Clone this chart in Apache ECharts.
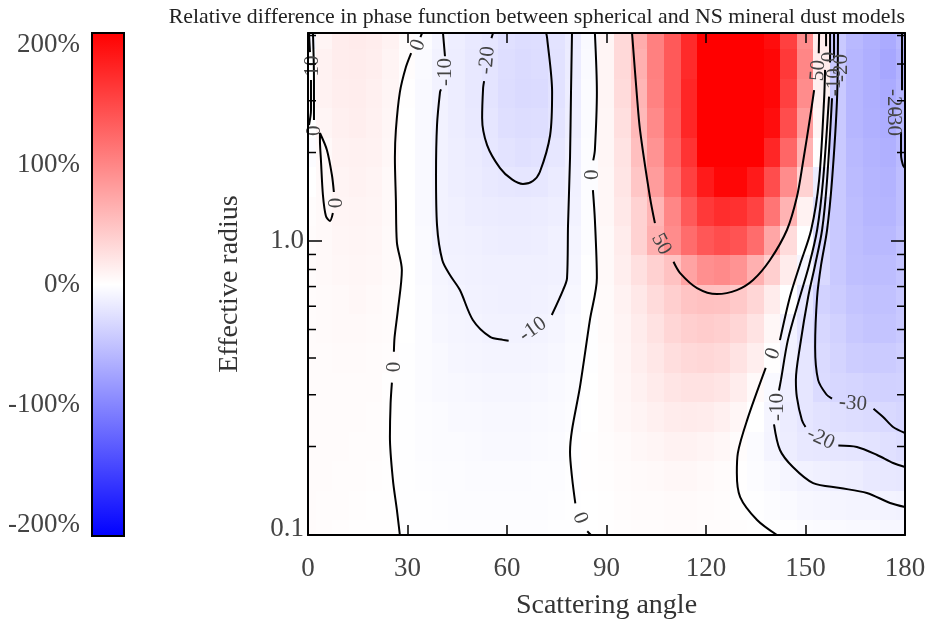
<!DOCTYPE html>
<html><head><meta charset="utf-8">
<script src="https://cdn.jsdelivr.net/npm/echarts@6/dist/echarts.min.js"></script>
<style>html,body{margin:0;padding:0;background:#fff}#c{width:929px;height:625px}</style>
</head><body><div id="c"></div>
<script>
// ---------- data ----------
const angles = [0,5,10,15,20,25,30,35,40,45,50,55,60,65,70,75,80,85,90,95,100,105,110,115,120,125,130,135,140,145,150,155,160,165,170,175,180];
const radii = [5.01,3.98,3.16,2.51,2.00,1.58,1.26,1.00,0.794,0.631,0.501,0.398,0.316,0.251,0.200,0.158,0.126,0.100];
// relative difference (%) per radius row (top = largest radius) and angle column
const diffRows = [
 [-8,8,14,16,14,10,3,-2,-9,-13,-17,-20,-24,-27,-26,-22,-16,-5,8,30,65,100,130,167,200,215,215,210,190,150,90,15,-42,-55,-61,-66,-56],
 [0,10,14,15,13,9,2,-4,-10,-14,-18,-21,-26,-28,-27,-23,-15,-4,8,30,62,100,130,167,205,220,220,215,195,155,95,15,-42,-57,-63,-69,-60],
 [3,10,13,14,12,8,1,-5,-10,-14,-18,-21,-27,-29,-28,-23,-14,-3,8,28,58,98,130,170,210,225,225,220,195,150,90,12,-42,-57,-63,-66,-57],
 [0,8,12,13,11,7,0,-5,-10,-14,-17,-20,-25,-27,-26,-21,-13,-3,7,25,55,92,128,170,210,225,225,220,190,140,78,8,-42,-57,-62,-64,-55],
 [-2,5,10,11,10,6,0,-5,-10,-13,-16,-19,-22,-24,-23,-19,-12,-2,7,22,50,85,122,160,200,215,215,205,170,120,60,0,-42,-55,-60,-62,-53],
 [0,5,9,10,9,5,0,-5,-10,-13,-15,-17,-19,-20,-19,-16,-11,-2,6,20,45,78,112,150,180,195,195,180,140,90,35,-15,-42,-53,-58,-60,-51],
 [2,5,8,9,8,5,0,-5,-10,-12,-14,-15,-16,-16,-15,-13,-10,-2,6,18,35,58,95,130,155,165,162,148,108,60,10,-25,-42,-52,-57,-58,-51],
 [3,5,7,8,7,4,0,-4,-10,-11,-12,-13,-14,-14,-13,-11,-9,-2,5,15,35,62,90,115,132,140,135,115,70,28,0,-30,-42,-51,-55,-55,-48],
 [3,5,6,7,6,4,0,-4,-8,-10,-11,-12,-12,-12,-12,-11,-8,-1,5,13,24,36,48,72,88,92,85,62,38,15,-8,-30,-42,-50,-52,-52,-46],
 [3,4,5,6,5,3,0,-3,-7,-9,-10.5,-11,-11.5,-11.5,-11,-9.5,-6,-1,4,10,18,28,38,46,49,48,42,32,15,0,-20,-35,-40,-46,-49,-49,-43],
 [3,4,5,5,4,3,0,-3,-6,-8,-9,-10,-10.5,-10,-9.5,-8,-5,-1,4,9,15,23,32,38,40,38,32,22,6,-10,-22,-31,-36,-43,-46,-46,-42],
 [3,3,4,4,3,2,-1,-3,-5,-7,-8,-8.5,-8.5,-8.5,-7.5,-6,-4,-1,3,8,13,19,26,30,31,29,22,13,1,-11,-20,-29,-34,-39,-41,-41,-38],
 [3,3,3,3,3,1,-1,-3,-4.5,-5.5,-6.5,-7,-7,-7,-6,-5,-3,0,3,7,11,16,20,23,23,20,14,5,-5,-13,-20,-28,-31,-33,-35,-36,-35],
 [3,3,3,3,2,1,-1,-2.5,-3.5,-4.5,-5,-5.5,-5.5,-5.5,-5,-4,-2,0,3,6,9,12,15,16,15,12,7,0,-8,-15,-20,-23,-25,-27,-28.5,-30,-32],
 [3,3,3,2,2,1,-1,-2,-3,-3.5,-4,-4.5,-4.5,-4.5,-4,-3,-1,0.5,2,4,6,8,10,10,9,6,2,-3,-9,-14,-18,-19,-20,-20.5,-22,-24,-27],
 [3,3,2,2,1.5,1,-0.5,-1.5,-2,-2.5,-3,-3,-3,-3,-2.5,-2,-0.5,0.5,1.5,3,4,5,6,6,5,3,0.5,-2,-5,-8,-10.5,-12,-13,-14,-17,-18,-19],
 [3,2,2,1.5,1,0.5,-0.5,-1,-1.5,-2,-2,-2,-2,-2,-2,-1.5,-1,0,1,2,3,3.5,4,4,3.5,2.5,1,-0.5,-2.5,-4,-6,-7,-8,-8.5,-9,-9.5,-10],
 [3,2,1.5,1,1,0.5,-0.5,-1,-1,-1.5,-1.5,-1.5,-1.5,-1.5,-1.5,-1,-0.5,0,0.5,1.5,2,2.5,3,3,2.5,2,1.5,1,0.2,-1,-2,-3,-4,-5,-5,-6,-6]
];
const xTicks = [0,30,60,90,120,150,180];
const yMinorTicks = [0.2,0.3,0.4,0.5,0.6,0.7,0.8,0.9,2,3,4,5];
const colorbarTicks = [-200,-100,0,100,200];
// contour polylines: [scattering angle, effective radius]; '-' = gap for label
const contour0a = [[34.4,5.10],[33.9,4.94],'-',[31.1,4.36],[29.5,3.9],[27.7,3.21],[26.5,2.39],[26.2,1.92],[26.5,1.38],[26.8,0.99],[28.3,0.797],[27.1,0.582],[26.1,0.47],[25.9,0.42],'-',[25.3,0.33],[24.9,0.28],[24.7,0.2155],[25.6,0.154],[26.8,0.1217],[27.7,0.1]];
const contour0b = [[86.5,5.10],[87.1,3.21],[86.5,2.04],[86.0,1.88],'-',[85.9,1.49],[86.5,1.18],[87.1,0.748],[85.0,0.539],[82.0,0.319],[79.6,0.2276],[79.0,0.1915],[79.6,0.1575],[80.6,0.128],'-',[84.2,0.103],[85.3,0.1]];
const contourM10a = [[40.7,5.10],[41.3,4.25],'-',[40.1,3.28],[39.8,3.21],[38.9,2.48],[38.6,1.68],[38.9,1.133],[40.5,0.86],[42.8,0.766],[45.8,0.681],[49.7,0.539],[54.9,0.472],[58.8,0.461],[60.5,0.458],'-',[73.5,0.56],[76.9,0.681],[78.1,0.748],[78.4,1.133],[79.0,1.915],[79.3,3.21],[79.6,5.10]];
const contourM20a = [[55.8,5.10],[55.3,4.9],'-',[53.1,3.5],[52.8,3.32],[52.5,2.62],[54.0,2.12],[57.9,1.77],[61.5,1.62],[64.8,1.563],[67.8,1.6],[69.9,1.717],[73.0,2.29],[73.6,3.21],[72.1,4.90],[71.8,5.10]];
const contour50 = [[97.7,5.10],[99.2,3.09],[100.1,2.39],[103.1,1.411],[104.6,1.15],'-',[110.2,0.85],[112.2,0.778],[117.3,0.692],[123.3,0.660],[129.3,0.681],[134.2,0.737],[139.3,0.862],[144.4,1.09],[147.4,1.411],[149.2,1.842],[151.4,2.64],[152.6,3.26],'-',[154.0,4.35],[154.1,5.10]];
const contour0c = [[156.2,5.10],[156.2,4.6],'-',[155.9,3.82],[155.6,3.02],[154.1,1.612],[151.7,1.09],[148.3,0.829],[145.3,0.645],[142.3,0.46],'-',[138.0,0.37],[132.4,0.246],[129.6,0.190],[129.3,0.1625],[130.3,0.1346],[135.4,0.1125],[141.4,0.1]];
const contourM10b = [[157.4,5.10],[157.4,4.05],'-',[157.1,3.1],[155.3,1.612],[153.5,1.09],[151.1,0.829],[148.3,0.645],[144.7,0.461],[142.6,0.337],[142.0,0.31],'-',[140.5,0.238],[142.3,0.1946],[146.2,0.1703],[152.3,0.1502],[160.4,0.1445],[168.5,0.139],[175.5,0.1285],[180,0.1245]];
const contourM20b = [[158.6,5.10],[158.6,4.19],'-',[158.0,3.06],[156.5,1.612],[155.0,1.09],[152.9,0.829],[150.8,0.645],[148.3,0.436],[147.1,0.337],[147.4,0.2946],[148.9,0.246],[150.0,0.233],'-',[159.9,0.2015],[165.5,0.1992],[171.6,0.1871],[176.4,0.1758],[180,0.1703]];
const contourM30b = [[159.8,5.10],[159.5,3.02],[158.0,1.612],[156.5,1.09],[154.7,0.829],[153.5,0.645],[152.9,0.436],[153.8,0.337],[156.2,0.3017],[158.0,0.291],'-',[170.5,0.269],[173.4,0.252],[176.4,0.233],[180,0.2223]];
const contourEdgeR = [[179.1,5.10],[179.1,3.26],'-',[178.8,2.35],[178.8,1.96],[179.4,1.81],[180,1.77]];
const contourEdgeL1 = [[0.3,5.10],[0.6,4.39],'-',[0.9,3.53],[0.9,2.79],[0.3,2.48]];
const contourEdgeL2 = [[1.5,5.10],[1.8,3.53],[1.8,2.58]];
const contourLoop = [[3.6,2.33],[5.7,2.04],[7.2,1.68],[7.8,1.468],'-',[7.5,1.245],[6.6,1.17],[5.4,1.216],[4.5,1.434],[3.9,1.886],[3.6,2.206],[3.6,2.33]];
const contourLines = [contour0a,contour0b,contourM10a,contourM20a,contour50,contour0c,contourM10b,contourM20b,contourM30b,contourEdgeR,contourEdgeL1,contourEdgeL2,contourLoop];
// contour labels: [angle, radius, text, rotation in degrees]
const contourLabels = [[33.2,4.64,'0',70],[26.0,0.373,'0',90],[85.9,1.68,'0',90],[82.0,0.1143,'0',-70],
 [41.6,3.76,'-10',90],[67.8,0.5,'-10',35],[54.0,4.12,'-20',85],[106.5,0.975,'50',-62],[153.8,3.8,'50',85],
 [140.2,0.414,'0',70],[141.7,0.2725,'-10',90],[154.6,0.213,'-20',-25],[164.3,0.28,'-30',-5],
 [157.1,4.23,'0',90],[158.6,3.47,'-10',90],[161.0,3.88,'-20',90],[176.4,2.95,'-20',-90],[176.4,2.54,'-30',-90],
 [1.5,3.94,'10',90],[2.1,2.37,'0',90],[8.7,1.347,'0',90]];

// ---------- chart ----------
const SERIF = '"Liberation Serif","Times New Roman",serif';
const heatData = [];
diffRows.forEach((row, i) => row.forEach((v, j) => heatData.push([angles[j], radii[i], v, i])));
const halfStep = (angles[1] - angles[0]) / 2;
const xMin = xTicks[0], xMax = xTicks[xTicks.length - 1];

function rowEdges(i) {
  const n = radii.length;
  const top = i === 0 ? radii[0] * Math.sqrt(radii[0] / radii[1]) : Math.sqrt(radii[i - 1] * radii[i]);
  const bot = i === n - 1 ? radii[n - 1] * Math.sqrt(radii[n - 1] / radii[n - 2]) : Math.sqrt(radii[i] * radii[i + 1]);
  return [top, bot];
}

const chart = echarts.init(document.getElementById('c'), null, {renderer: 'canvas'});
const axisLineStyle = {color: '#000', width: 2};
const series = [];
series.push({
  type: 'custom', xAxisIndex: 0, yAxisIndex: 0, clip: true, silent: true,
  data: heatData, encode: {x: 0, y: 1},
  renderItem: function (params, api) {
    const a = api.value(0), i = api.value(3);
    const e = rowEdges(i);
    const p0 = api.coord([a - halfStep, e[0]]);
    const p1 = api.coord([a + halfStep, e[1]]);
    const x0 = Math.floor(p0[0]), y0 = Math.floor(p0[1]);
    const x1 = Math.ceil(p1[0]), y1 = Math.ceil(p1[1]);
    return {type: 'rect', shape: {x: x0, y: y0, width: x1 - x0 + 1, height: y1 - y0 + 1},
            style: {fill: api.visual('color')}};
  }
});
contourLines.forEach(pts => series.push({
  type: 'line', xAxisIndex: 0, yAxisIndex: 0, data: pts, symbol: 'none', smooth: 0.3,
  connectNulls: false, silent: true, z: 3,
  lineStyle: {color: '#000', width: 2}
}));
series.push({
  type: 'custom', xAxisIndex: 0, yAxisIndex: 0, silent: true, z: 4,
  data: contourLabels.map(l => [l[0], l[1]]),
  renderItem: function (params, api) {
    const l = contourLabels[params.dataIndex];
    const p = api.coord([l[0], l[1]]);
    return {type: 'text', x: p[0], y: p[1], rotation: l[3] * Math.PI / 180,
      style: {text: l[2], fill: '#444', font: '21px ' + SERIF,
              align: 'center', verticalAlign: 'middle', textAlign: 'center', textVerticalAlign: 'middle'}};
  }
});
series.push({
  type: 'custom', xAxisIndex: 0, yAxisIndex: 0, silent: true, z: 5,
  data: yMinorTicks.map(v => [xMin, v]),
  renderItem: function (params, api) {
    const v = api.value(1);
    const pl = api.coord([xMin, v]), pr = api.coord([xMax, v]);
    return {type: 'group', children: [
      {type: 'line', shape: {x1: pl[0], y1: pl[1], x2: pl[0] + 8, y2: pl[1]}, style: {stroke: '#000', lineWidth: 1.5}},
      {type: 'line', shape: {x1: pr[0], y1: pr[1], x2: pr[0] - 8, y2: pr[1]}, style: {stroke: '#000', lineWidth: 1.5}}
    ]};
  }
});
series.push({
  type: 'custom', xAxisIndex: 2, yAxisIndex: 2, silent: true,
  data: [[0, 0]],
  renderItem: function (params, api) {
    const p0 = api.coord([0, 210]), p1 = api.coord([1, -209.2]);
    return {type: 'rect', shape: {x: p0[0], y: p0[1], width: p1[0] - p0[0], height: p1[1] - p0[1]},
      style: {stroke: '#000', lineWidth: 2,
        fill: new echarts.graphic.LinearGradient(0, 0, 0, 1, [
          {offset: 0, color: '#ff0000'}, {offset: 0.5, color: '#ffffff'}, {offset: 1, color: '#0000ff'}])}};
  }
});

const tickLabelFont = {fontFamily: SERIF, fontSize: 27, color: '#444'};
chart.setOption({
  backgroundColor: '#fff',
  animation: false,
  title: {
    text: 'Relative difference in phase function between spherical and NS mineral dust models',
    right: 24, top: 6, padding: 0,
    textStyle: {fontFamily: SERIF, fontSize: 21.8, fontWeight: 'normal', color: '#222'}
  },
  grid: [
    {left: 308, right: 24, top: 33, bottom: 90},
    {left: 92, width: 32, top: 45, height: 480}
  ],
  visualMap: {
    type: 'continuous', show: false, min: -200, max: 200, dimension: 2, seriesIndex: 0,
    inRange: {color: ['#0000ff', '#ffffff', '#ff0000']}
  },
  xAxis: [
    {type: 'value', gridIndex: 0, position: 'bottom', min: xMin, max: xMax, interval: 30, z: 10,
     axisLine: {onZero: false, lineStyle: axisLineStyle},
     axisTick: {inside: true, length: 10, lineStyle: {color: '#000', width: 1.5}},
     axisLabel: Object.assign({margin: 20}, tickLabelFont),
     splitLine: {show: false},
     name: 'Scattering angle', nameLocation: 'middle', nameGap: 57,
     nameTextStyle: {fontFamily: SERIF, fontSize: 28, color: '#333'}},
    {type: 'value', gridIndex: 0, position: 'top', min: xMin, max: xMax, interval: 30, z: 10,
     axisLine: {onZero: false, lineStyle: axisLineStyle},
     axisTick: {inside: true, length: 10, lineStyle: {color: '#000', width: 1.5}},
     axisLabel: {show: false}, splitLine: {show: false}},
    {type: 'value', gridIndex: 1, min: 0, max: 1, show: false}
  ],
  yAxis: [
    {type: 'log', logBase: 10, gridIndex: 0, position: 'left', min: 0.1, max: 5.1, z: 10,
     axisLine: {onZero: false, lineStyle: axisLineStyle},
     axisTick: {inside: true, length: 14, lineStyle: {color: '#000', width: 1.5}},
     axisLabel: Object.assign({margin: 4, showMaxLabel: false,
       formatter: function (v) {
         if (Math.abs(v - 0.1) < 1e-6) return '{lo|0.1}';
         if (Math.abs(v - 1) < 1e-6) return '1.0';
         return '';
       },
       rich: {lo: {fontFamily: SERIF, fontSize: 27, color: '#444', padding: [0, 0, 12, 0]}}}, tickLabelFont),
     splitLine: {show: false}, minorTick: {show: false},
     name: 'Effective radius', nameLocation: 'middle', nameGap: 64,
     nameTextStyle: {fontFamily: SERIF, fontSize: 28, color: '#333'}},
    {type: 'log', logBase: 10, gridIndex: 0, position: 'right', min: 0.1, max: 5.1, z: 10,
     axisLine: {onZero: false, lineStyle: axisLineStyle},
     axisTick: {inside: true, length: 14, lineStyle: {color: '#000', width: 1.5}},
     axisLabel: {show: false}, splitLine: {show: false}},
    {type: 'value', gridIndex: 1, position: 'left', min: colorbarTicks[0], max: colorbarTicks[colorbarTicks.length - 1], interval: 100,
     axisLine: {show: false}, axisTick: {show: false}, splitLine: {show: false},
     axisLabel: Object.assign({margin: 12, formatter: '{value}%'}, tickLabelFont)}
  ],
  series: series
});
</script></body></html>
